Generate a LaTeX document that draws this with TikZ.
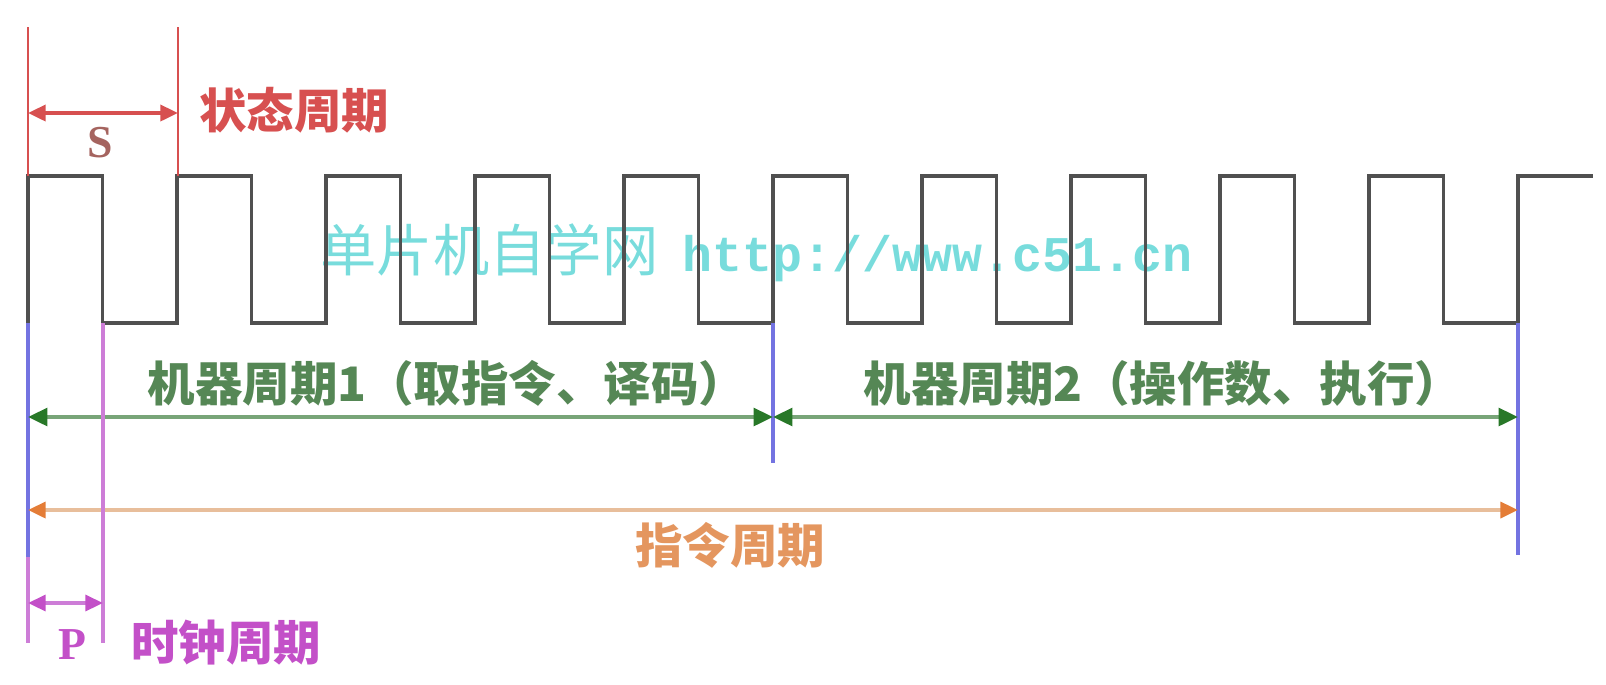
\documentclass[tikz,border=0pt]{standalone}
\usepackage{fontspec}
\setmainfont{Liberation Serif}
\newfontfamily\cjk{Noto Sans CJK SC}
\newfontfamily\wmono{Liberation Mono}
\usepackage{tikz}
\usetikzlibrary{arrows.meta}

\definecolor{wavegray}{RGB}{80,80,80}
\definecolor{sred}{RGB}{215,80,80}
\definecolor{stext}{RGB}{165,100,95}
\definecolor{pblue}{RGB}{115,115,225}
\definecolor{ppink}{RGB}{205,125,215}
\definecolor{ptext}{RGB}{195,80,200}
\definecolor{mline}{RGB}{120,165,120}
\definecolor{mhead}{RGB}{40,120,40}
\definecolor{mtext}{RGB}{85,135,85}
\definecolor{iline}{RGB}{232,190,155}
\definecolor{ihead}{RGB}{228,125,55}
\definecolor{itext}{RGB}{228,150,95}
\definecolor{wmark}{RGB}{120,220,220}

\begin{document}
\begin{tikzpicture}[x=0.01cm, y=-0.01cm,
  wave/.style={wavegray, line width=0.9pt},
  redline/.style={sred, line width=0.8pt},
  blueline/.style={pblue, line width=0.9pt},
  pinkline/.style={ppink, line width=0.9pt},
  sarrow/.style={sred, line width=1.1pt, {Triangle[length=5pt,width=4.5pt]}-{Triangle[length=5pt,width=4.5pt]}},
  parrow/.style={ppink, line width=1pt, {Triangle[length=5pt,width=4.5pt,color=ptext]}-{Triangle[length=5pt,width=4.5pt,color=ptext]}},
  marrow/.style={mline, line width=1.1pt, {Triangle[length=5.5pt,width=5pt,color=mhead]}-{Triangle[length=5.5pt,width=5pt,color=mhead]}},
  iarrow/.style={iline, line width=1.1pt, {Triangle[length=5pt,width=4.5pt,color=ihead]}-{Triangle[length=5pt,width=4.5pt,color=ihead]}},
  cjklabel/.style={font=\cjk\bfseries\fontsize{13.5pt}{14pt}\selectfont, inner sep=0pt},
  letter/.style={font=\bfseries\fontsize{13pt}{14pt}\selectfont, inner sep=0pt}]
\useasboundingbox (0,0) rectangle (1606,684);

%watermark
  \node[anchor=west, inner sep=0pt, text=wmark] (wm) at (320,253)
    {{\cjk\fontsize{16pt}{17pt}\selectfont 单片机自学网}\hspace{7pt}{\wmono\bfseries\fontsize{14.2pt}{15pt}\selectfont http://www.c51.cn}};

%square wave
  \draw[wave] (28,323) -- (28,176)
    foreach \i in {1,...,10} { -- ++(74.5,0) -- ++(0,147) -- ++(74.5,0) -- ++(0,-147) }
    -- ++(75,0);

%state period
  \coordinate (S0t) at (28,27);
  \coordinate (S0b) at (28,176);
  \coordinate (S1t) at (178,27);
  \coordinate (S1b) at (178,176);
  \coordinate (Sa) at (28,113);
  \coordinate (Sb) at (178,113);
  \draw[redline] (S0t) -- (S0b);
  \draw[redline] (S1t) -- (S1b);
  \draw[sarrow] (Sa) -- (Sb);
  \node[letter, text=stext] (S) at (100,143) {S};
  \node[cjklabel, text=sred] (Slab) at (294,110) {状态周期};

%machine and instruction periods
  \coordinate (B0t) at (28,323);
  \coordinate (B0b) at (28,557);
  \coordinate (B1t) at (773,323);
  \coordinate (B1b) at (773,463);
  \coordinate (B2t) at (1518,323);
  \coordinate (B2b) at (1518,555);
  \draw[blueline] (B0t) -- (B0b);
  \draw[blueline] (B1t) -- (B1b);
  \draw[blueline] (B2t) -- (B2b);

  \coordinate (M0) at (28,417);
  \coordinate (M1) at (773,417);
  \coordinate (M2) at (1518,417);
  \draw[marrow] (M0) -- (M1);
  \draw[marrow] (M1) -- (M2);
  \node[cjklabel, text=mtext] (M1lab) at (447,383) {机器周期1（取指令、译码）};
  \node[cjklabel, text=mtext] (M2lab) at (1163,383) {机器周期2（操作数、执行）};

  \coordinate (I0) at (28,510);
  \coordinate (I1) at (1518,510);
  \draw[iarrow] (I0) -- (I1);
  \node[cjklabel, text=itext] (Ilab) at (730,545) {指令周期};

%clock period
  \coordinate (P0t) at (28,557);
  \coordinate (P0b) at (28,643);
  \coordinate (P1t) at (103,323);
  \coordinate (P1b) at (103,643);
  \coordinate (Pa) at (28,603);
  \coordinate (Pb) at (103,603);
  \draw[pinkline] (P0t) -- (P0b);
  \draw[pinkline] (P1t) -- (P1b);
  \draw[parrow] (Pa) -- (Pb);
  \node[letter, text=ptext] (P) at (72,645) {P};
  \node[cjklabel, text=ptext] (Plab) at (226,643) {时钟周期};
\end{tikzpicture}
\end{document}
